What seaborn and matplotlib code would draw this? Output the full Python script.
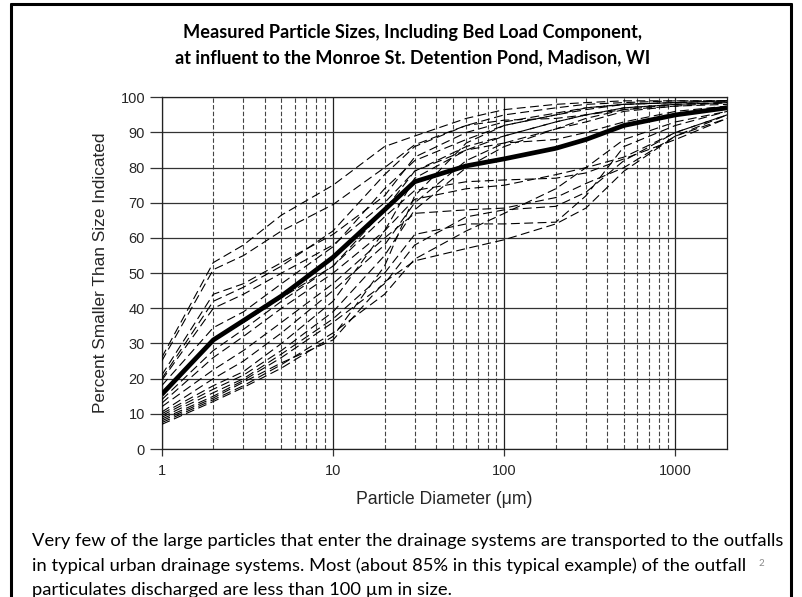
import numpy as np
import pandas as pd
import matplotlib
matplotlib.use("Agg")
import matplotlib.pyplot as plt
import seaborn as sns
from matplotlib.ticker import FixedLocator, NullFormatter

# ---------------- data ----------------
diam = [1, 2, 3, 5, 10, 20, 30, 60, 100, 200, 300, 500, 1000, 2000]
median_curve = [15.5, 31, 36.5, 43.5, 54.5, 68, 76, 80.5, 82.5, 85.5, 88, 92, 95, 97]

d1 = [26, 53, 58, 66.5, 75, 86, 89, 94, 96.5, 98, 98.5, 99, 99, 99]
d2 = [25, 51, 55, 62, 69.5, 80, 86.5, 92, 95, 97, 98, 98.5, 99, 99]
d3 = [21, 44, 47, 53, 61, 72, 83, 90, 93, 95.5, 97, 98, 98.5, 99]
d4 = [19.5, 40, 44, 50, 58, 70, 79, 86, 89, 93, 95, 97, 98, 98.5]
d5 = [18, 34.5, 39, 47, 57.5, 74, 82, 88, 92, 95, 96.5, 98, 98.5, 99]
d6 = [14, 28, 34, 42, 52, 66, 73.5, 76, 76.5, 77, 78.5, 82.5, 88, 94]
d7 = [13, 26, 32, 40, 50, 62, 71, 74, 75, 78, 80, 83, 90, 95]
d8 = [12, 22.5, 28, 36, 47, 60, 67, 68, 68.5, 71.5, 75.5, 80, 89, 95]
d9 = [10.5, 20, 25, 33, 45, 58, 70, 82, 87, 91, 93, 96, 97.5, 98.5]
d10 = [10, 18, 22, 30, 42, 62, 77, 85, 89, 93, 95, 97, 98, 98.5]
d11 = [9.5, 17, 21, 28, 39, 55, 68, 80, 86, 91, 94, 96.5, 97.5, 98]
d12 = [9, 16, 20, 27, 37, 50, 61, 64, 64, 64.5, 72, 86, 92, 96]
d13 = [8.5, 15, 19.5, 26, 36, 47, 58, 66, 68, 69, 73, 82, 90, 95]
d14 = [8, 14.5, 19, 24.5, 31, 47.5, 53.5, 57, 59.5, 64, 68.5, 79, 89, 94]
d15 = [7.5, 14, 18, 24, 33, 44, 54, 62, 67, 74, 80, 88, 93, 96]
d16 = [7, 13.5, 17.5, 23, 32, 52, 72, 87, 92, 95, 97, 98, 98.5, 99]
d17 = [16, 31, 36, 43, 52, 68, 79, 85, 87, 88, 90, 93, 96, 97.5]
d18 = [20, 42, 46, 52, 62, 78, 86, 92, 93.5, 94, 95, 96.5, 98, 98.5]
dashed_curves = [d1, d2, d3, d4, d5, d6, d7, d8, d9, d10, d11, d12, d13, d14,
                 d15, d16, d17, d18]

y_ticks = [0, 10, 20, 30, 40, 50, 60, 70, 80, 90, 100]
x_major = [1, 10, 100, 1000]
x_major_labels = ["1", "10", "100", "1000"]

title_lines = "Measured Particle Sizes, Including Bed Load Component,\nat influent to the Monroe St. Detention Pond, Madison, WI"
x_label = "Particle Diameter (\u03bcm)"
y_label = "Percent Smaller Than Size Indicated"
caption_lines = [
    "Very few of the large particles that enter the drainage systems are transported to the outfalls",
    "in typical urban drainage systems. Most (about 85% in this typical example) of the outfall",
    "particulates discharged are less than 100 \u00b5m in size.",
]

# ---------------- figure ----------------
sns.set_theme(style="white")
plt.rcParams['font.family'] = ['Liberation Sans', 'DejaVu Sans']

fig = plt.figure(figsize=(8.03, 5.97), dpi=100)
ax = fig.add_axes([0.2014, 0.2479, 0.7040, 0.5891])

for i, c in enumerate(dashed_curves):
    df = pd.DataFrame({"d": diam, "p": c})
    sns.lineplot(data=df, x="d", y="p", ax=ax, color="black", lw=0.8,
                 estimator=None, linestyle=(0, (8, 4)), zorder=3)

dfm = pd.DataFrame({"d": diam, "p": median_curve})
sns.lineplot(data=dfm, x="d", y="p", ax=ax, color="black", lw=3.4,
             estimator=None, zorder=4, solid_capstyle="butt")

ax.set_xscale("log")
ax.set_xlim(1, 2000)
ax.set_ylim(0, 100)

ax.xaxis.set_major_locator(FixedLocator(x_major))
ax.set_xticklabels(x_major_labels)
minor = [m * 10 ** e for e in range(0, 4) for m in range(2, 10) if m * 10 ** e < 2000]
ax.xaxis.set_minor_locator(FixedLocator(minor))
ax.xaxis.set_minor_formatter(NullFormatter())
ax.set_yticks(y_ticks)

ax.grid(False)
for v in x_major:
    ax.axvline(v, color="#222222", lw=0.9, zorder=1)
for v in minor:
    ax.axvline(v, color="#444444", lw=0.8, ls=(0, (4, 2)), zorder=1)
for v in y_ticks:
    ax.axhline(v, color="#333333", lw=0.9, zorder=1)

for s in ax.spines.values():
    s.set_visible(True)
    s.set_color("#222222")
    s.set_linewidth(0.9)

ax.tick_params(axis="y", which="major", direction="out", length=9, width=0.9,
               color="#333333", pad=3, labelsize=10.5, left=True)
ax.tick_params(axis="x", which="major", direction="out", length=5, width=0.9,
               color="#333333", pad=6, labelsize=10.5, bottom=True)
ax.tick_params(axis="x", which="minor", length=0)

ax.set_xlabel(x_label, fontsize=12.7)
ax.set_ylabel(y_label, fontsize=12.4)
ax.yaxis.set_label_coords(-0.095, 0.5)
ax.xaxis.set_label_coords(0.5, -0.12)

fig.text(0.514, 0.925, title_lines, ha="center", va="center", fontsize=13.1,
         fontweight="bold", family=["Lato", "DejaVu Sans"], linespacing=1.6,
         color="black")

cap_y = [541, 566, 590]
for line, yp in zip(caption_lines, cap_y):
    fig.text(0.040, 1 - yp / 597, line, ha="left", va="center", fontsize=13.2,
             family=["Lato", "DejaVu Sans"], color="black")
fig.text(0.948, 1 - 564 / 597, "2", ha="center", va="center", fontsize=7,
         color="#8a8a8a", family=["Lato", "DejaVu Sans"])

# slide border
for (x0, y0, x1, y1) in [(0.0135, 0.0, 0.0135, 0.994), (0.0135, 0.994, 0.985, 0.994),
                         (0.985, 0.994, 0.985, 0.0)]:
    fig.add_artist(plt.Line2D([x0, x1], [y0, y1], color="black", lw=2.2,
                              transform=fig.transFigure))

fig.savefig("out.png", dpi=100)
